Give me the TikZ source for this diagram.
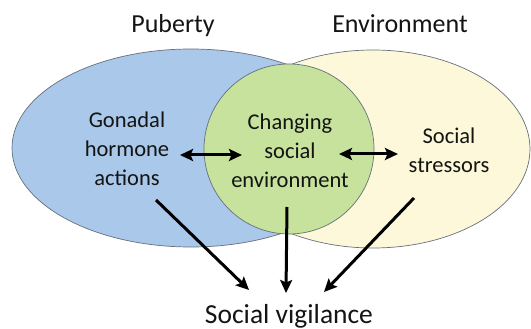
\documentclass[tikz,border=0pt]{standalone}
\usepackage{fontspec}
\setmainfont{Carlito}
\usetikzlibrary{arrows.meta}

\definecolor{pubblue}{HTML}{A9C8EA}
\definecolor{envyellow}{HTML}{FCF8D9}
\definecolor{mixgreen}{HTML}{C6E29D}
\definecolor{rimgray}{HTML}{66707C}
\definecolor{inkgray}{HTML}{141414}

\begin{document}
\begin{tikzpicture}[x=1pt, y=-1pt,
        area/.style={draw=rimgray, line width=0.7pt},
        body text/.style={text=inkgray, align=center, font=\fontsize{22.5}{29}\selectfont},
        head text/.style={text=inkgray, anchor=base, font=\fontsize{26}{30}\selectfont},
        link/.style={-{Stealth[length=13pt, width=12pt, inset=2.5pt]}, line width=3pt, draw=black},
        both link/.style={link, {Stealth[length=13pt, width=12pt, inset=2.5pt]}-{Stealth[length=13pt, width=12pt, inset=2.5pt]}}]
    \useasboundingbox (0, 0) rectangle (531, 329);

    % the three areas
    \draw [area, fill=pubblue] (191, 148) ellipse [x radius=179, y radius=99];
    \draw [area, fill=envyellow] (373, 149) ellipse [x radius=157, y radius=99];
    \draw [area, fill=mixgreen] (289, 149) circle [radius=85];

    \node [head text] (pub) at (173, 33) {Puberty};
    \node [head text] (env) at (400, 33) {Environment};

    \node [body text] (gon) at (127, 149) {Gonadal\\hormone\\actions};
    \node [body text] (chg) at (290, 151) {Changing\\social\\environment};
    \node [body text] (soc) at (449, 150) {Social\\stressors};

    \node [head text, font=\fontsize{27.5}{31}\selectfont] (vig) at (289, 323) {Social vigilance};

    \draw [both link] ([shift={(53, 6)}]gon.center) -- ([shift={(-48, 4)}]chg.center);
    \draw [both link] ([shift={(49, 3)}]chg.center) -- ([shift={(-51, 4)}]soc.center);

    \draw [link] ([shift={(29, 51)}]gon.center) -- ([shift={(-40, -33)}]vig.base);
    \draw [link] ([shift={(-3, 56)}]chg.center) -- ([shift={(-3, -30)}]vig.base);
    \draw [link] ([shift={(-35, 48)}]soc.center) -- ([shift={(35, -31)}]vig.base);
\end{tikzpicture}
\end{document}
